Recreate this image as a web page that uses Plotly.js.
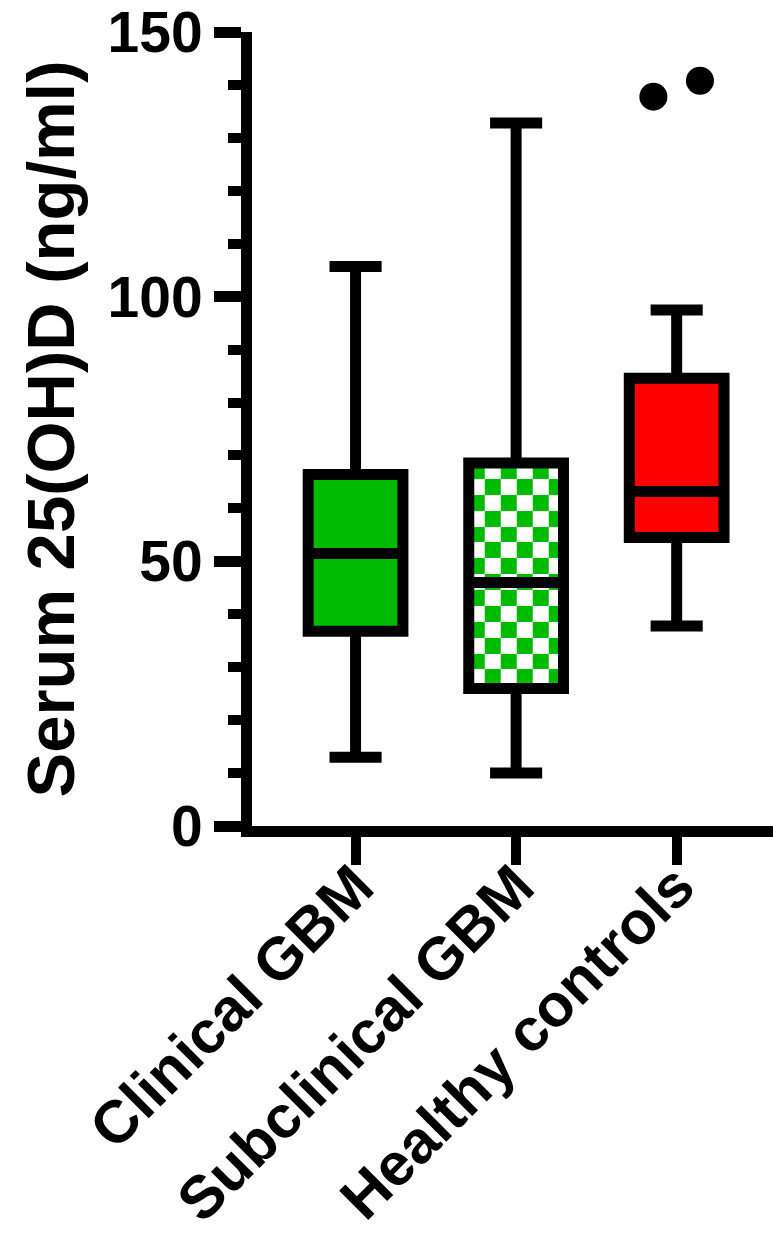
<!DOCTYPE html>
<html>
<head>
<meta charset="utf-8">
<script src="https://cdn.plot.ly/plotly-3.0.1.min.js"></script>
<style>html,body{margin:0;padding:0;background:#fff;}#chart{width:773px;height:1249px;}</style>
</head>
<body>
<div id="chart"></div>
<script>
// ---- data ----
const categories = ["Clinical GBM", "Subclinical GBM", "Healthy controls"];
const lowerFence = [13.0, 10.0, 37.8];
const q1Values   = [36.8, 26.0, 54.5];
const medians    = [51.5, 46.0, 63.2];
const q3Values   = [66.4, 68.6, 84.6];
const upperFence = [105.7, 132.8, 97.5];
const fillColors = ["#00bb00", "rgba(0,0,0,0)", "#ff0000"];
const outlierGroup = [2, 2];
const outlierValues = [137.8, 140.8];
const outlierOffset = [-0.145, 0.145];
const yTickVals = [0, 50, 100, 150];

// ---- style ----
const FONT = "Liberation Sans, Arial, sans-serif";
const LW = 11;
const BOXW = 0.59;
const checkerGreen = "#00bb00";

const traces = [];

// checkerboard fill for the Subclinical box (drawn under the box outline)
(function () {
  const idx = 1;
  const cellX = 0.1, cellY = 3.0;
  const x0 = idx - BOXW / 2, x1 = idx + BOXW / 2;
  const y0 = q1Values[idx], y1 = q3Values[idx];
  const xe = [], ye = [];
  for (let x = x0; x < x1 - 1e-9; x += cellX) xe.push(x);
  xe.push(x1);
  for (let y = y1; y > y0 + 1e-9; y -= cellY) ye.push(y);
  ye.push(y0);
  const z = [];
  for (let r = 0; r < ye.length - 1; r++) {
    const row = [];
    for (let c = 0; c < xe.length - 1; c++) row.push((r + c + 1) % 2);
    z.push(row);
  }
  traces.push({
    type: "heatmap", x: xe, y: ye, z: z, zmin: 0, zmax: 1,
    colorscale: [[0, "#ffffff"], [1, checkerGreen]],
    showscale: false, hoverinfo: "skip", xgap: 0, ygap: 0
  });
})();

categories.forEach((c, i) => {
  traces.push({
    type: "box", name: c, x: [i],
    q1: [q1Values[i]], median: [medians[i]], q3: [q3Values[i]],
    lowerfence: [lowerFence[i]], upperfence: [upperFence[i]],
    width: BOXW, whiskerwidth: 0.55,
    fillcolor: fillColors[i],
    line: { color: "#000", width: LW },
    boxpoints: false, hoverinfo: "skip", showlegend: false
  });
});

traces.push({
  type: "scatter", mode: "markers",
  x: outlierGroup.map((g, k) => g + outlierOffset[k]),
  y: outlierValues,
  marker: { color: "#000", size: 28 },
  hoverinfo: "skip", showlegend: false
});

const layout = {
  width: 773, height: 1249,
  margin: { l: 252, r: 0, t: 32, b: 423, pad: 0 },
  paper_bgcolor: "#fff", plot_bgcolor: "#fff",
  showlegend: false,
  font: { family: FONT, color: "#000", weight: 700 },
  xaxis: {
    range: [-0.645, 2.6],
    tickmode: "array", tickvals: [0, 1, 2], ticktext: categories,
    tickangle: -45,
    tickfont: { family: FONT, size: 60, color: "#000", weight: 700 },
    ticklabelstandoff: -38,
    ticks: "outside", ticklen: 28, tickwidth: 10, tickcolor: "#000",
    showline: true, linewidth: LW, linecolor: "#000",
    showgrid: false, zeroline: false, fixedrange: true
  },
  yaxis: {
    range: [0, 150.01],
    tickmode: "array", tickvals: yTickVals,
    tickfont: { family: FONT, size: 57, color: "#000", weight: 700 },
    ticks: "outside", ticklen: 27, tickwidth: 11, tickcolor: "#000",
    minor: { dtick: 10, ticks: "outside", ticklen: 13, tickwidth: 10, tickcolor: "#000", showgrid: false },
    showline: true, linewidth: LW, linecolor: "#000",
    showgrid: false, zeroline: false, fixedrange: true,
    title: { text: "Serum 25(OH)D (ng/ml)", font: { family: FONT, size: 67, color: "#000", weight: 700 }, standoff: 16 }
  }
};

Plotly.newPlot("chart", traces, layout, { displayModeBar: false, staticPlot: true });
</script>
</body>
</html>
